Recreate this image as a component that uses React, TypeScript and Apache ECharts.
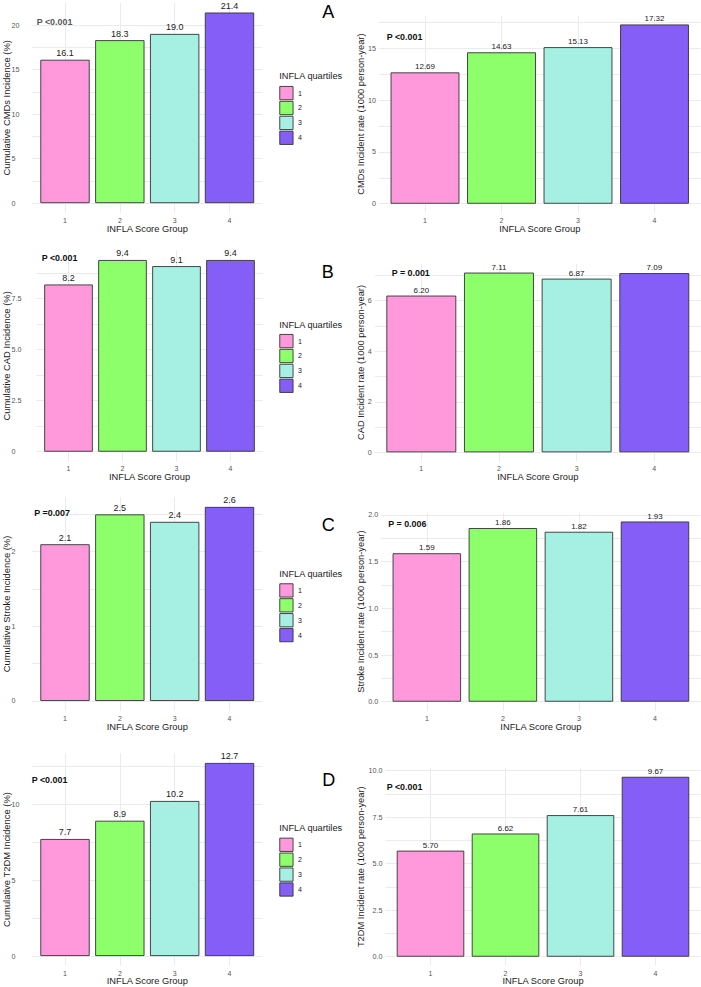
import React, { useEffect, useRef } from "react";
import * as echarts from "echarts";

// INFLA score quartile groups and their fill colours
const groups = ["1", "2", "3", "4"];
const quartileColors = ["#FF99DB", "#8CFF6B", "#A5F0E2", "#845EF6"];

// Cumulative incidence (%) and incident rate (per 1000 person-year)
const cmdsCumulative = [16.1, 18.3, 19.0, 21.4];
const cmdsRate = [12.69, 14.63, 15.13, 17.32];
const cadCumulative = [8.2, 9.4, 9.1, 9.4];
const cadRate = [6.2, 7.11, 6.87, 7.09];
const strokeCumulative = [2.1, 2.5, 2.4, 2.6];
const strokeRate = [1.59, 1.86, 1.82, 1.93];
const t2dmCumulative = [7.7, 8.9, 10.2, 12.7];
const t2dmRate = [5.7, 6.62, 7.61, 9.67];

// Trend-test annotations
const pValues = [
  "P <0.001",
  "P <0.001",
  "P <0.001",
  "P = 0.001",
  "P =0.007",
  "P = 0.006",
  "P <0.001",
  "P <0.001",
];

// Y axis tick values and their labels
const cmdsCumTicks = [0, 5, 10, 15, 20];
const cmdsCumTickLabels = ["0", "5", "10", "15", "20"];
const cmdsRateTicks = [0, 5, 10, 15];
const cmdsRateTickLabels = ["0", "5", "10", "15"];
const cadCumTicks = [0, 2.5, 5, 7.5];
const cadCumTickLabels = ["0", "2.5", "5.0", "7.5"];
const cadRateTicks = [0, 2, 4, 6];
const cadRateTickLabels = ["0", "2", "4", "6"];
const strokeCumTicks = [0, 1, 2];
const strokeCumTickLabels = ["0", "1", "2"];
const strokeRateTicks = [0, 0.5, 1, 1.5, 2];
const strokeRateTickLabels = ["0.0", "0.5", "1.0", "1.5", "2.0"];
const t2dmCumTicks = [0, 5, 10];
const t2dmCumTickLabels = ["0", "5", "10"];
const t2dmRateTicks = [0, 2.5, 5, 7.5, 10];
const t2dmRateTickLabels = ["0.0", "2.5", "5.0", "7.5", "10.0"];

const yTitles = [
  "Cumulative CMDs Incidence (%)",
  "CMDs Incident rate (1000 person-year)",
  "Cumulative CAD Incidence (%)",
  "CAD Incident rate (1000 person-year)",
  "Cumulative Stroke Incidence (%)",
  "Stroke Incident rate (1000 person-year)",
  "Cumulative T2DM Incidence (%)",
  "T2DM Incident rate (1000 person-year)",
];
const xTitle = "INFLA Score Group";
const legendTitle = "INFLA quartiles";
const panelLetters = ["A", "B", "C", "D"];

const panelValues = [
  cmdsCumulative,
  cmdsRate,
  cadCumulative,
  cadRate,
  strokeCumulative,
  strokeRate,
  t2dmCumulative,
  t2dmRate,
];
const panelTicks = [
  cmdsCumTicks,
  cmdsRateTicks,
  cadCumTicks,
  cadRateTicks,
  strokeCumTicks,
  strokeRateTicks,
  t2dmCumTicks,
  t2dmRateTicks,
];
const panelTickLabels = [
  cmdsCumTickLabels,
  cmdsRateTickLabels,
  cadCumTickLabels,
  cadRateTickLabels,
  strokeCumTickLabels,
  strokeRateTickLabels,
  t2dmCumTickLabels,
  t2dmRateTickLabels,
];

// Plot-area geometry of each panel (left column = cumulative, right = rate)
const panelGrids = [
  { left: 32.1, width: 230.3, top: 3.0, height: 209.7 },
  { left: 379.1, width: 321.3, top: 15.5, height: 197.2 },
  { left: 36.1, width: 226.8, top: 250.4, height: 210.9 },
  { left: 374.7, width: 326.2, top: 263.6, height: 197.7 },
  { left: 32.1, width: 230.3, top: 497.2, height: 213.5 },
  { left: 381.2, width: 319.4, top: 512.5, height: 198.2 },
  { left: 32.1, width: 230.3, top: 753.3, height: 212.4 },
  { left: 385.5, width: 315.0, top: 767.8, height: 197.9 },
];
const pTextPos = [
  [36.7, 22],
  [386.7, 36.7],
  [41.7, 258.3],
  [391.7, 272.7],
  [34.3, 512.7],
  [388.3, 523.7],
  [31.7, 780],
  [386.7, 786.7],
];
const letterPos = [
  [328.3, 12.2],
  [327.7, 271.7],
  [328.3, 525],
  [328.8, 779.7],
];
const legendTops = [86, 334, 583.3, 837.7];
const legendTitleY = [76, 325, 574, 828.3];
const legendLeft = 279.3;

const FONT = "'Liberation Sans', Arial, Helvetica, sans-serif";
const GRID_COLOR = "#e8ecec";
const TICK_COLOR = "#555555";
const TEXT_COLOR = "#1a1a1a";

function minorTicks(ticks: number[], maxVal: number): number[] {
  const step = ticks[1] - ticks[0];
  const out: number[] = [];
  ticks.forEach((t) => {
    if (t + step / 2 <= maxVal) out.push(t + step / 2);
  });
  return out;
}

function buildOption() {
  const grid: any[] = [];
  const xAxis: any[] = [];
  const yAxis: any[] = [];
  const series: any[] = [];
  const graphic: any[] = [];

  panelValues.forEach((values, i) => {
    const isLeft = i % 2 === 0;
    const isBottomRow = i >= 6;
    const g = panelGrids[i];
    const maxVal = Math.max(...values);
    const yMin = -0.05 * maxVal;
    const yMax = 1.05 * maxVal;
    const ticks = panelTicks[i];
    const tickLabels = panelTickLabels[i];

    grid.push({
      left: g.left,
      top: g.top,
      width: g.width,
      height: g.height,
      containLabel: false,
      outerBoundsMode: "none",
    });

    xAxis.push({
      type: "value",
      gridIndex: i,
      min: 0.4,
      max: 4.6,
      axisLine: { show: false, onZero: false },
      axisTick: { show: false, customValues: [1, 2, 3, 4] },
      axisLabel: {
        customValues: [1, 2, 3, 4],
        formatter: (v: number) => groups[Math.round(v) - 1],
        fontSize: 7,
        color: TICK_COLOR,
        fontFamily: FONT,
        margin: 4,
      },
      splitLine: { show: true, lineStyle: { color: GRID_COLOR, width: 1 } },
      name: xTitle,
      nameLocation: "middle",
      nameGap: isBottomRow ? 10.5 : 11.5,
      nameMoveOverlap: false,
      nameTextStyle: { fontSize: 9.3, color: TEXT_COLOR, fontFamily: FONT },
    });

    const allTicks = [...ticks, ...minorTicks(ticks, yMax)].sort((a, b) => a - b);
    const rightAligned = !isLeft;
    yAxis.push({
      type: "value",
      gridIndex: i,
      min: yMin,
      max: yMax,
      axisLine: { show: false, onZero: false },
      axisTick: { show: false, customValues: allTicks },
      axisLabel: {
        customValues: ticks,
        formatter: (v: number) => {
          const idx = ticks.findIndex((t) => Math.abs(t - v) < 1e-9);
          return idx >= 0 ? tickLabels[idx] : "";
        },
        fontSize: 7.2,
        color: TICK_COLOR,
        fontFamily: FONT,
        align: rightAligned ? "right" : "left",
        margin: rightAligned ? 3 : g.left - 11.5,
      },
      splitLine: { show: true, lineStyle: { color: GRID_COLOR, width: 1 } },
      name: yTitles[i],
      nameLocation: "middle",
      nameGap: isLeft ? g.left - 11.2 : g.left - 365.2,
      nameMoveOverlap: false,
      nameTextStyle: {
        fontSize: isLeft ? 9.4 : 9.3,
        color: TEXT_COLOR,
        fontFamily: FONT,
      },
    });

    values.forEach((v, k) => {
      series.push({
        type: "bar",
        name: groups[k],
        xAxisIndex: i,
        yAxisIndex: i,
        stack: "panel" + i,
        barWidth: "90%",
        data: [[k + 1, v]],
        itemStyle: {
          color: quartileColors[k],
          borderColor: "#333333",
          borderWidth: 0.9,
        },
        label: {
          show: true,
          position: "top",
          distance: isLeft ? 2 : 1.5,
          formatter: (p: any) => Number(p.value[1]).toFixed(isLeft ? 1 : 2),
          fontSize: isLeft ? 9 : 8,
          color: TEXT_COLOR,
          fontFamily: FONT,
        },
        emphasis: { disabled: true },
      });
    });

    const [px, py] = pTextPos[i];
    graphic.push({
      type: "text",
      x: px,
      y: py,
      silent: true,
      z: 10,
      style: {
        text: pValues[i],
        fontSize: 8.9,
        fontWeight: "bold",
        fontFamily: FONT,
        fill: i === 0 ? "#5a5a5a" : "#111111",
        align: "left",
        verticalAlign: "middle",
      },
    });
  });

  const legend = legendTops.map((top) => ({
    show: true,
    orient: "vertical",
    left: legendLeft,
    top,
    padding: 0,
    itemWidth: 13.3,
    itemHeight: 13.3,
    itemGap: 0.7,
    icon: "rect",
    selectedMode: false,
    data: groups,
    itemStyle: { borderColor: "#333333", borderWidth: 0.9 },
    textStyle: { fontSize: 7, color: TEXT_COLOR, fontFamily: FONT, padding: [0, 0, 0, 0] },
  }));

  legendTitleY.forEach((y) => {
    graphic.push({
      type: "text",
      x: legendLeft,
      y,
      silent: true,
      style: {
        text: legendTitle,
        fontSize: 9.2,
        fontFamily: FONT,
        fill: TEXT_COLOR,
        align: "left",
        verticalAlign: "middle",
      },
    });
  });

  panelLetters.forEach((letter, j) => {
    const [lx, ly] = letterPos[j];
    graphic.push({
      type: "text",
      x: lx,
      y: ly,
      silent: true,
      style: {
        text: letter,
        fontSize: 18,
        fontFamily: FONT,
        fill: "#000000",
        align: "center",
        verticalAlign: "middle",
      },
    });
  });

  return {
    animation: false,
    backgroundColor: "#ffffff",
    textStyle: { fontFamily: FONT },
    grid,
    xAxis,
    yAxis,
    legend,
    series,
    graphic,
  };
}

export default function App() {
  const ref = useRef<HTMLDivElement>(null);

  useEffect(() => {
    if (!ref.current) return;
    const chart = echarts.init(ref.current, undefined, { renderer: "svg" });
    chart.setOption(buildOption() as any);
    return () => {
      chart.dispose();
    };
  }, []);

  return (
    <div
      ref={ref}
      style={{ position: "fixed", left: 0, top: 0, width: 701, height: 987, background: "#fff" }}
    />
  );
}
